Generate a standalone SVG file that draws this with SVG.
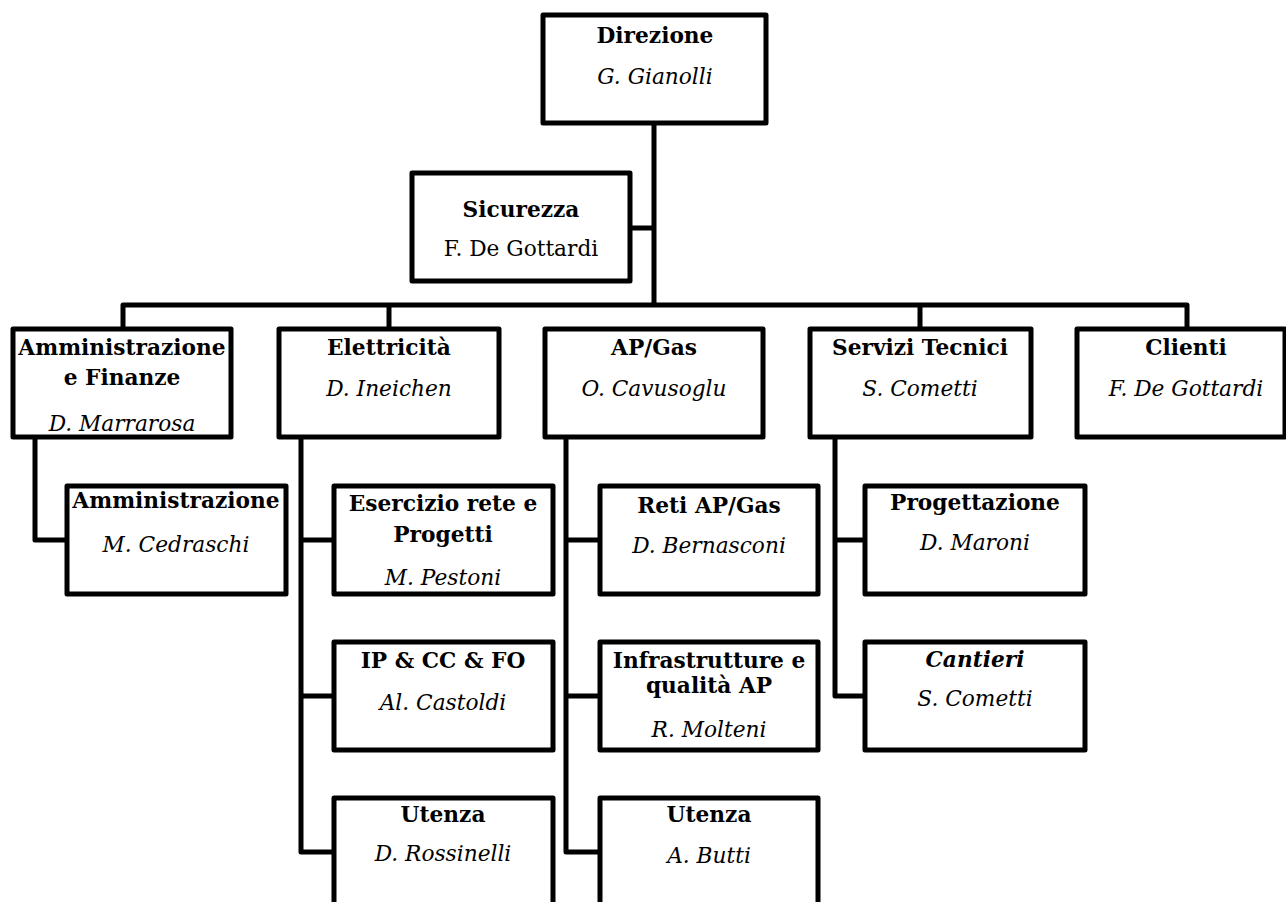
<svg xmlns="http://www.w3.org/2000/svg" width="1286" height="902" viewBox="0 0 1286 902">
<style>
.box{fill:#fff;stroke:#000;stroke-width:5;stroke-linejoin:round}
.con{fill:none;stroke:#000;stroke-width:5;stroke-linejoin:round}
text{font-family:"DejaVu Serif","Liberation Serif",serif;font-size:21.7px;fill:#000;text-anchor:middle}
.t{font-weight:bold}
.n{font-style:italic}
.bi{font-weight:bold;font-style:italic}
</style>
<rect width="1286" height="902" fill="#fff"/>
<g id="connectors">
<path class="con" d="M654 123V305M630 228H654M123 329V305H1187V329M389 305V329M920 305V329"/>
<path class="con" d="M35 437V540H67"/>
<path class="con" d="M301 437V852H334M301 540H334M301 696H334"/>
<path class="con" d="M566 437V852H600M566 540H600M566 696H600"/>
<path class="con" d="M835 437V696H865M835 540H865"/>
</g>
<g id="direzione"><rect class="box" x="543" y="15" width="223" height="108"/><text class="t" x="655" y="43">Direzione</text><text class="n" x="655" y="84">G. Gianolli</text></g>
<g id="sicurezza"><rect class="box" x="412" y="173" width="218" height="108"/><text class="t" x="521" y="217">Sicurezza</text><text x="521" y="256">F. De Gottardi</text></g>
<g id="amm-fin"><rect class="box" x="13" y="329" width="218" height="108"/><text class="t" x="122" y="355">Amministrazione</text><text class="t" x="122" y="385">e Finanze</text><text class="n" x="122" y="431">D. Marrarosa</text></g>
<g id="elettricita"><rect class="box" x="279" y="329" width="220" height="108"/><text class="t" x="389" y="355">Elettricità</text><text class="n" x="389" y="396">D. Ineichen</text></g>
<g id="apgas"><rect class="box" x="545" y="329" width="218" height="108"/><text class="t" x="654" y="355">AP/Gas</text><text class="n" x="654" y="396">O. Cavusoglu</text></g>
<g id="servizi"><rect class="box" x="810" y="329" width="221" height="108"/><text class="t" x="920" y="355">Servizi Tecnici</text><text class="n" x="920" y="396">S. Cometti</text></g>
<g id="clienti"><rect class="box" x="1077" y="329" width="208" height="108"/><text class="t" x="1186" y="355">Clienti</text><text class="n" x="1186" y="396">F. De Gottardi</text></g>
<g id="amministrazione"><rect class="box" x="67" y="486" width="219" height="108"/><text class="t" x="176" y="508">Amministrazione</text><text class="n" x="176" y="552">M. Cedraschi</text></g>
<g id="esercizio"><rect class="box" x="334" y="486" width="219" height="108"/><text class="t" x="443" y="511">Esercizio rete e</text><text class="t" x="443" y="542">Progetti</text><text class="n" x="443" y="585">M. Pestoni</text></g>
<g id="ip"><rect class="box" x="334" y="642" width="219" height="108"/><text class="t" x="443" y="668">IP &amp; CC &amp; FO</text><text class="n" x="443" y="710">Al. Castoldi</text></g>
<g id="utenza-e"><rect class="box" x="334" y="798" width="219" height="108"/><text class="t" x="443" y="822">Utenza</text><text class="n" x="443" y="861">D. Rossinelli</text></g>
<g id="reti"><rect class="box" x="600" y="486" width="218" height="108"/><text class="t" x="709" y="513">Reti AP/Gas</text><text class="n" x="709" y="553">D. Bernasconi</text></g>
<g id="infra"><rect class="box" x="600" y="642" width="218" height="108"/><text class="t" x="709" y="668">Infrastrutture e</text><text class="t" x="709" y="693">qualità AP</text><text class="n" x="709" y="737">R. Molteni</text></g>
<g id="utenza-ap"><rect class="box" x="600" y="798" width="218" height="108"/><text class="t" x="709" y="822">Utenza</text><text class="n" x="709" y="863">A. Butti</text></g>
<g id="progettazione"><rect class="box" x="865" y="486" width="220" height="108"/><text class="t" x="975" y="510">Progettazione</text><text class="n" x="975" y="550">D. Maroni</text></g>
<g id="cantieri"><rect class="box" x="865" y="642" width="220" height="108"/><text class="bi" x="975" y="667">Cantieri</text><text class="n" x="975" y="706">S. Cometti</text></g>
</svg>
